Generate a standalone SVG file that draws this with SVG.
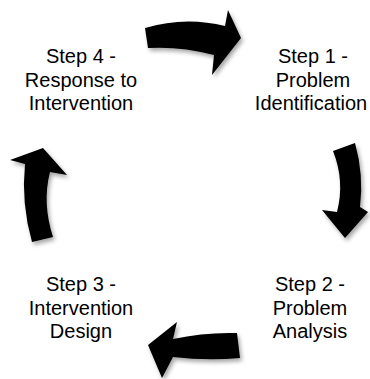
<svg xmlns="http://www.w3.org/2000/svg" width="370" height="379" viewBox="0 0 370 379">
  <defs>
    <filter id="shadow" x="-30%" y="-30%" width="160%" height="160%">
      <feDropShadow dx="2" dy="3" stdDeviation="2" flood-color="#000" flood-opacity="0.35"/>
    </filter>
    <style>
      .lbl { font-family: "Liberation Sans", Arial, sans-serif; font-size: 20px; fill: #000; text-anchor: middle; }
      .arrow { fill: #000; stroke: none; filter: url(#shadow); }
    </style>
  </defs>
  <rect width="370" height="379" fill="#fff"/>

  <g id="step1">
    <text class="lbl" x="313" y="63">Step 1 -</text>
    <text class="lbl" x="313" y="87">Problem</text>
    <text class="lbl" x="311" y="110">Identification</text>
  </g>
  <g id="step2">
    <text class="lbl" x="310" y="291">Step 2 -</text>
    <text class="lbl" x="310" y="315">Problem</text>
    <text class="lbl" x="310" y="338">Analysis</text>
  </g>
  <g id="step3">
    <text class="lbl" x="81" y="291">Step 3 -</text>
    <text class="lbl" x="81" y="315">Intervention</text>
    <text class="lbl" x="81" y="338">Design</text>
  </g>
  <g id="step4">
    <text class="lbl" x="81" y="63">Step 4 -</text>
    <text class="lbl" x="81" y="87">Response to</text>
    <text class="lbl" x="81" y="110">Intervention</text>
  </g>

  <g id="connectors">
    <path class="arrow" d="M145 28 Q185 16 225 26 L228 10 L241 38 L212 75 L214 55 Q180 46 148 48 Z"/>
    <path class="arrow" d="M333 151 L355 143 Q364 175 360 207 L368 212 L345 238 L322 210 L337 212 Q345 181 333 151 Z"/>
    <path class="arrow" d="M237 333 Q205 332 173 339 L177 322 L148 345 L162 378 L173 357 Q207 361 240 358 Z"/>
    <path class="arrow" d="M32 242 Q21 203 25 164 L10 160 L43 148 L67 175 L50 172 Q42 203 53 237 Z"/>
  </g>
</svg>
